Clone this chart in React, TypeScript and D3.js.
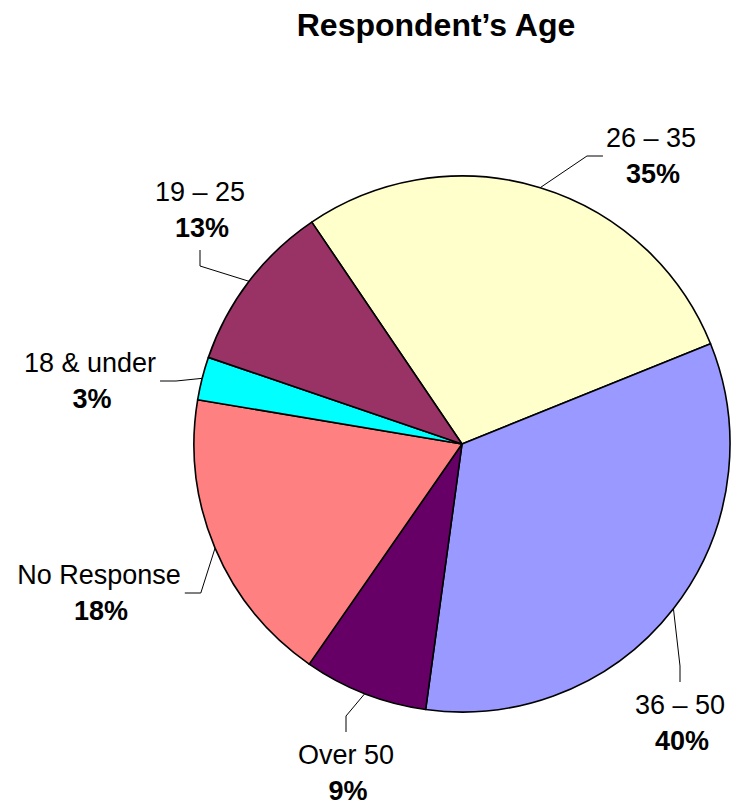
import React, { useRef, useEffect } from 'react';
import * as d3 from 'd3';

const title = 'Respondent’s Age';
const categories = ['26 – 35', '36 – 50', 'Over 50', 'No Response', '18 & under', '19 – 25'];
// share of the circle each slice takes, as drawn
const shares = [28.4, 33.3, 7.5, 18.0, 2.6, 10.3];
// percentages printed under each category name
const labelPercents = ['35%', '40%', '9%', '18%', '3%', '13%'];
const colors = ['#FFFFCC', '#9999FF', '#660066', '#FF8080', '#00FFFF', '#993366'];

// where each label box sits (center) and which side the leader line joins it
const labelLayout = [
    { x: 651, y: 156, side: 'left' },
    { x: 680, y: 723, side: 'top' },
    { x: 346, y: 773, side: 'top' },
    { x: 99, y: 593, side: 'right' },
    { x: 90, y: 381, side: 'right' },
    { x: 200, y: 210, side: 'bottom' },
];

const width = 744;
const height = 805;
const cx = 462;
const cy = 444;
const radius = 268;
const font = '"Liberation Sans", Arial, sans-serif';

function App() {
    const chartRef = useRef(null);

    useEffect(() => {
        const svg = d3.select(chartRef.current)
            .append('svg')
            .attr('width', width)
            .attr('height', height)
            .style('position', 'absolute')
            .style('left', 0)
            .style('top', 0)
            .style('background', '#ffffff');

        svg.append('text')
            .attr('x', 436)
            .attr('y', 36)
            .attr('text-anchor', 'middle')
            .style('font-family', font)
            .style('font-weight', 'bold')
            .style('font-size', '32px')
            .text(title);

        const startAngle = -34.1 * Math.PI / 180;
        const pie = d3.pie<number>()
            .sort(null)
            .startAngle(startAngle)
            .endAngle(startAngle + Math.PI * 2);
        const arcs = pie(shares);

        const arc = d3.arc<d3.PieArcDatum<number>>()
            .innerRadius(0)
            .outerRadius(radius);

        const g = svg.append('g')
            .attr('transform', `translate(${cx}, ${cy})`);

        g.selectAll('.slice')
            .data(arcs)
            .enter()
            .append('path')
            .attr('class', 'slice')
            .attr('d', (d) => arc(d))
            .attr('fill', (d, i) => colors[i])
            .attr('stroke', '#000')
            .attr('stroke-width', 1.6)
            .attr('stroke-linejoin', 'round');

        const labels = svg.selectAll('.label')
            .data(arcs)
            .enter()
            .append('g')
            .attr('class', 'label');

        labels.append('text')
            .attr('x', (d, i) => labelLayout[i].x)
            .attr('y', (d, i) => labelLayout[i].y - 9)
            .attr('text-anchor', 'middle')
            .style('font-family', font)
            .style('font-size', '27px')
            .text((d, i) => categories[i]);

        labels.append('text')
            .attr('x', (d, i) => labelLayout[i].x + 2)
            .attr('y', (d, i) => labelLayout[i].y + 27)
            .attr('text-anchor', 'middle')
            .style('font-family', font)
            .style('font-weight', 'bold')
            .style('font-size', '27px')
            .text((d, i) => labelPercents[i]);

        // leader lines: pie edge at slice middle -> elbow -> label box
        const elbow = 16;
        const leaders: string[] = [];
        labels.each(function (d, i) {
            const texts = d3.select(this).selectAll('text').nodes() as SVGTextElement[];
            const w = d3.max(texts, (t) => t.getComputedTextLength()) || 0;
            const mid = (d.startAngle + d.endAngle) / 2;
            const x0 = cx + radius * Math.sin(mid);
            const y0 = cy - radius * Math.cos(mid);
            const lay = labelLayout[i];
            let ax = lay.x, ay = lay.y, ex = lay.x, ey = lay.y;
            if (lay.side === 'top') { ay = lay.y - 41; ey = ay - elbow; }
            if (lay.side === 'bottom') { ay = lay.y + 40; ey = ay + elbow; }
            if (lay.side === 'left') { ax = lay.x - w / 2 - 3; ex = ax - elbow; }
            if (lay.side === 'right') { ax = lay.x + w / 2 + 4; ex = ax + elbow; }
            leaders.push(`${x0},${y0} ${ex},${ey} ${ax},${ay}`);
        });

        svg.selectAll('.leader')
            .data(leaders)
            .enter()
            .append('polyline')
            .attr('class', 'leader')
            .attr('points', (d) => d)
            .attr('fill', 'none')
            .attr('stroke', '#000')
            .attr('stroke-width', 1);

        return () => {
            svg.remove();
        };
    }, []);

    return (
        <div ref={chartRef} style={{ width, height }}></div>
    );
}

export default App;
